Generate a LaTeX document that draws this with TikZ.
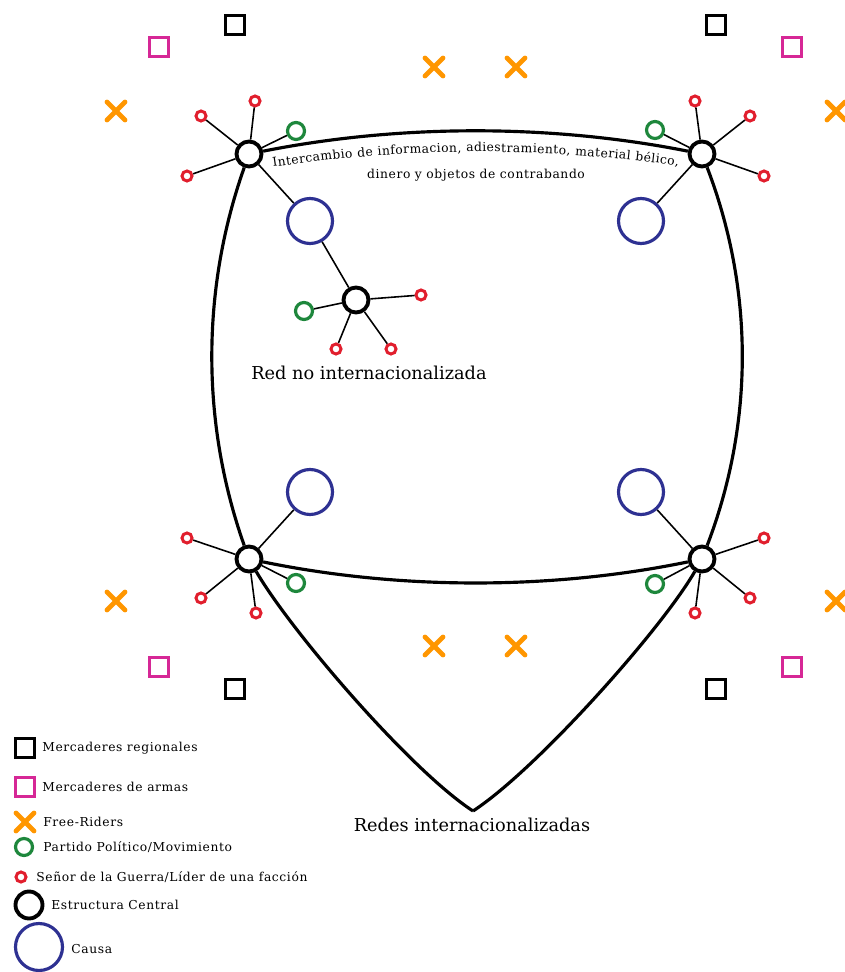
\documentclass[tikz,border=0pt]{standalone}
\usepackage{fontspec}
\setmainfont{DejaVu Serif}
\newfontfamily\spaced[LetterSpace=5]{DejaVu Serif}
\usetikzlibrary{shapes.misc,decorations.text}

\definecolor{causeblue}{RGB}{46,49,146}
\definecolor{armspink}{RGB}{214,40,150}
\definecolor{riderorange}{RGB}{255,150,0}
\definecolor{partygreen}{RGB}{30,135,60}
\definecolor{lordred}{RGB}{225,30,45}

\tikzset{
  hub/.style={circle,draw=black,fill=white,line width=2.2pt,minimum size=0.5cm,inner sep=0pt},
  cause/.style={circle,draw=causeblue,fill=white,line width=1.8pt,minimum size=0.9cm,inner sep=0pt},
  party/.style={circle,draw=partygreen,fill=white,line width=1.8pt,minimum size=0.34cm,inner sep=0pt},
  lord/.style={circle,draw=lordred,fill=white,line width=1.7pt,minimum size=0.2cm,inner sep=0pt},
  trader/.style={rectangle,draw=black,line width=1.5pt,minimum size=0.37cm,inner sep=0pt},
  armsdealer/.style={trader,draw=armspink},
  rider/.style={cross out,draw=riderorange,line width=2.8pt,line cap=round,minimum size=0.26cm,inner sep=0pt},
  spoke/.style={line width=0.9pt},
  border/.style={line width=1.8pt},
  smalltext/.style={font=\spaced\fontsize{7}{8}\selectfont,inner sep=0pt},
  legtext/.style={smalltext,anchor=west},
  bigtext/.style={font=\fontsize{10.1}{12}\selectfont,inner sep=0pt}
}

\begin{document}
\begin{tikzpicture}[x=0.02cm,y=-0.02cm]
  \useasboundingbox (0,0) rectangle (844,972);

  % networks at the four corners
  \node[hub] (tl) at (249,154) {}; \node[cause] (tlc) at (310,221) {}; \node[party] (tlp) at (296,131) {};
  \node[lord] (tl1) at (201,116) {}; \node[lord] (tl2) at (255,101) {}; \node[lord] (tl3) at (187,176) {};
  \node[hub] (tr) at (702,154) {}; \node[cause] (trc) at (641,221) {}; \node[party] (trp) at (655,130) {};
  \node[lord] (tr1) at (695,101) {}; \node[lord] (tr2) at (750,116) {}; \node[lord] (tr3) at (764,176) {};
  \node[hub] (bl) at (249,559) {}; \node[cause] (blc) at (310,492) {}; \node[party] (blp) at (296,583) {};
  \node[lord] (bl1) at (187,538) {}; \node[lord] (bl2) at (201,598) {}; \node[lord] (bl3) at (256,613) {};
  \node[hub] (br) at (702,559) {}; \node[cause] (brc) at (641,492) {}; \node[party] (brp) at (655,584) {};
  \node[lord] (br1) at (764,538) {}; \node[lord] (br2) at (750,598) {}; \node[lord] (br3) at (695,613) {};

  % local network
  \node[hub] (mid) at (356,300) {}; \node[party] (midp) at (304,311) {};
  \node[lord] (mid1) at (421,295) {}; \node[lord] (mid2) at (336,349) {}; \node[lord] (mid3) at (391,349) {};

  \draw[spoke] (tl) -- (tlc); \draw[spoke] (tl) -- (tlp); \draw[spoke] (tl) -- (tl1); \draw[spoke] (tl) -- (tl2); \draw[spoke] (tl) -- (tl3);
  \draw[spoke] (tr) -- (trc); \draw[spoke] (tr) -- (trp); \draw[spoke] (tr) -- (tr1); \draw[spoke] (tr) -- (tr2); \draw[spoke] (tr) -- (tr3);
  \draw[spoke] (bl) -- (blc); \draw[spoke] (bl) -- (blp); \draw[spoke] (bl) -- (bl1); \draw[spoke] (bl) -- (bl2); \draw[spoke] (bl) -- (bl3);
  \draw[spoke] (br) -- (brc); \draw[spoke] (br) -- (brp); \draw[spoke] (br) -- (br1); \draw[spoke] (br) -- (br2); \draw[spoke] (br) -- (br3);
  \draw[spoke] (mid) -- (tlc); \draw[spoke] (mid) -- (midp); \draw[spoke] (mid) -- (mid1); \draw[spoke] (mid) -- (mid2); \draw[spoke] (mid) -- (mid3);

  % links between the networks
  \coordinate (tip) at (473,811);
  \draw[border] (tl) .. controls (400,124) and (551,124) .. (tr);
  \draw[border] (tl) .. controls (201,290) and (201,423) .. (bl);
  \draw[border] (tr) .. controls (754,290) and (754,423) .. (br);
  \draw[border] (bl) .. controls (400,590) and (551,590) .. (br);
  \draw[border] (bl) .. controls (290,630) and (410,770) .. (tip);
  \draw[border] (br) .. controls (661,630) and (536,770) .. (tip);

  \path[decorate,decoration={text along path,text align={fit to path},
    text={|\fontsize{7}{8}\selectfont|Intercambio de informacion, adiestramiento, material bélico,}}]
    (273,167) .. controls (410,147) and (543,147) .. (678,166);
  \node[smalltext] (goods) at (476,175) {dinero y objetos de contrabando};
  \node[bigtext] (local) at (369,373) {Red no internacionalizada};
  \node[bigtext] (global) at (472,825) {Redes internacionalizadas};

  % traders and free-riders
  \node[trader] (rt1) at (235,25) {}; \node[trader] (rt2) at (716,25) {};
  \node[trader] (rt3) at (235,689) {}; \node[trader] (rt4) at (716,689) {};
  \node[armsdealer] (ad1) at (159,47) {}; \node[armsdealer] (ad2) at (792,47) {};
  \node[armsdealer] (ad3) at (159,667) {}; \node[armsdealer] (ad4) at (792,667) {};
  \node[rider] (fr1) at (116,111) {}; \node[rider] (fr2) at (434,67) {}; \node[rider] (fr3) at (516,67) {}; \node[rider] (fr4) at (836,111) {};
  \node[rider] (fr5) at (116,601) {}; \node[rider] (fr6) at (434,646) {}; \node[rider] (fr7) at (516,646) {}; \node[rider] (fr8) at (836,601) {};

  % legend
  \node[trader] (k1) at (25,748) {}; \node[legtext] (k1t) at (42,748) {Mercaderes regionales};
  \node[armsdealer] (k2) at (25,787) {}; \node[legtext] (k2t) at (42,787) {Mercaderes de armas};
  \node[rider] (k3) at (25,822) {}; \node[legtext] (k3t) at (43,822) {Free-Riders};
  \node[party] (k4) at (24,847) {}; \node[legtext] (k4t) at (43,847) {Partido Político/Movimiento};
  \node[lord] (k5) at (21,877) {}; \node[legtext] (k5t) at (36,877) {Señor de la Guerra/Líder de una facción};
  \node[hub,minimum size=0.54cm] (k6) at (29,905) {}; \node[legtext] (k6t) at (51,905) {Estructura Central};
  \node[cause,minimum size=0.94cm] (k7) at (39,947) {}; \node[legtext] (k7t) at (71,949) {Causa};

\end{tikzpicture}
\end{document}
